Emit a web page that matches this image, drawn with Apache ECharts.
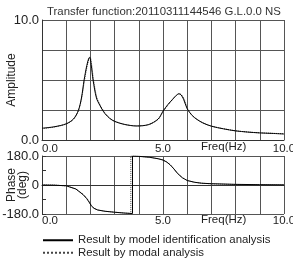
<!DOCTYPE html>
<html><head><meta charset="utf-8">
<script src="https://cdn.jsdelivr.net/npm/echarts@6/dist/echarts.min.js"></script>
<style>html,body{margin:0;padding:0;background:#fff}#c{width:293px;height:259px}</style>
</head><body><div id="c"></div>
<script>
const titleText = 'Transfer function:20110311144546 G.L.0.0 NS';
const seriesNames = ['Result by model identification analysis', 'Result by modal analysis'];
const xTickLabels = {0: '0.0', 5: '5.0', 10: '10.0'};
const ampTickLabels = {0: '0.0', 10: '10.0'};
const phaseTickLabels = {'-180': '-180.0', 0: '0', 180: '180.0'};

// Amplitude, model identification (solid)
const ampFreqA = [0, 0.5, 1.0, 1.3, 1.5, 1.63, 1.74, 1.85, 1.93, 1.97, 2.03, 2.11, 2.25, 2.4, 2.5, 2.6, 2.8, 3.0, 3.4, 3.9, 4.4, 4.8, 5.0, 5.2, 5.4, 5.55, 5.66, 5.75, 5.85, 6.0, 6.2, 6.4, 6.65, 7.0, 7.5, 8.0, 8.5, 9.0, 9.5, 10.0];
const ampValA  = [0.98, 1.1, 1.35, 1.75, 2.45, 3.5, 5.0, 6.2, 6.8, 6.9, 6.3, 5.0, 3.5, 2.85, 2.5, 2.2, 1.8, 1.55, 1.3, 1.17, 1.28, 1.75, 2.4, 2.95, 3.4, 3.72, 3.85, 3.75, 3.4, 2.6, 2.05, 1.72, 1.42, 1.15, 0.93, 0.76, 0.66, 0.59, 0.55, 0.5];
// Amplitude, modal analysis (dotted)
const ampFreqB = [0, 0.5, 1.0, 1.3, 1.5, 1.63, 1.75, 1.86, 1.95, 1.99, 2.05, 2.13, 2.27, 2.42, 2.52, 2.62, 2.8, 3.0, 3.4, 3.9, 4.4, 4.8, 5.0, 5.2, 5.4, 5.55, 5.67, 5.76, 5.87, 6.02, 6.2, 6.4, 6.65, 7.0, 7.5, 8.0, 8.5, 9.0, 9.5, 10.0];
const ampValB  = [0.96, 1.08, 1.33, 1.72, 2.4, 3.4, 4.9, 6.1, 6.8, 6.9, 6.3, 5.0, 3.5, 2.85, 2.5, 2.2, 1.82, 1.57, 1.31, 1.17, 1.28, 1.72, 2.35, 2.9, 3.38, 3.72, 3.87, 3.77, 3.42, 2.6, 2.07, 1.73, 1.43, 1.16, 0.94, 0.77, 0.67, 0.6, 0.56, 0.52];

// Phase, model identification (solid)
const phFreqA = [0, 0.5, 1.0, 1.4, 1.7, 1.85, 1.94, 2.04, 2.15, 2.3, 2.6, 3.0, 3.4, 3.74, 3.74, 4.0, 4.45, 4.8, 5.0, 5.15, 5.3, 5.45, 5.6, 5.8, 6.0, 6.3, 6.6, 7.0, 8.0, 9.0, 10.0];
const phValA  = [0, -1, -5, -25, -60, -85, -105, -130, -145, -155, -163, -169, -174, -177, 180, 178, 172, 163, 155, 143, 125, 100, 72, 45, 28, 17, 11, 8, 4, 2, 1];
// Phase, modal analysis (dotted)
const phFreqB = [0, 0.5, 1.0, 1.4, 1.7, 1.86, 1.95, 2.05, 2.16, 2.3, 2.6, 3.0, 3.4, 3.67, 3.67, 4.0, 4.45, 4.8, 5.0, 5.15, 5.3, 5.45, 5.6, 5.8, 6.0, 6.3, 6.6, 7.0, 8.0, 9.0, 10.0];
const phValB  = [0, -1, -5, -24, -58, -84, -104, -129, -145, -155, -163, -169, -174, -177, 180, 178, 172, 163, 155, 143, 125, 100, 72, 45, 28, 17, 11, 7, 3, 1, 0];

const zip = (a, b) => a.map((v, i) => [v, b[i]]);
const FONT = '"Liberation Sans", Arial, sans-serif';
const TXT = '#222';
const GRID = '#555';

const xAxisBase = (gi, margin) => ({
  type: 'value', gridIndex: gi, min: 0, max: 10, interval: 1,
  axisLine: {show: true, lineStyle: {color: '#333', width: 1}},
  axisTick: {show: false},
  splitLine: {show: true, lineStyle: {color: GRID, width: 1}},
  axisLabel: {
    margin: margin, color: TXT, fontFamily: FONT, fontSize: 11.5,
    alignMinLabel: 'left',
    formatter: v => xTickLabels[v] !== undefined ? xTickLabels[v] : ''
  }
});

const chart = echarts.init(document.getElementById('c'), null, {renderer: 'canvas'});
chart.setOption({
  animation: false,
  backgroundColor: '#fff',
  title: {
    text: titleText, left: 42, top: 1,
    textStyle: {fontFamily: FONT, fontSize: 11.4, fontWeight: 'normal', color: '#333'}
  },
  grid: [
    {left: 42, top: 20, right: 9, height: 120, outerBoundsMode: 'none', containLabel: false},
    {left: 42, top: 156, right: 9, height: 58, outerBoundsMode: 'none', containLabel: false}
  ],
  xAxis: [xAxisBase(0, 3), xAxisBase(1, 1)],
  yAxis: [
    {
      type: 'value', gridIndex: 0, min: 0, max: 10, interval: 2.5,
      name: 'Amplitude', nameLocation: 'middle', nameRotate: 90, nameGap: 24, nameMoveOverlap: false,
      nameTextStyle: {fontFamily: FONT, fontSize: 12, color: TXT},
      axisLine: {show: true, lineStyle: {color: '#333'}},
      axisTick: {show: false},
      splitLine: {show: true, lineStyle: {color: GRID}},
      axisLabel: {margin: 3, color: TXT, fontFamily: FONT, fontSize: 13,
        formatter: v => ampTickLabels[v] !== undefined ? ampTickLabels[v] : ''}
    },
    {
      type: 'value', gridIndex: 1, min: -180, max: 180, interval: 90,
      name: 'Phase\n(deg)', nameLocation: 'middle', nameRotate: 90, nameGap: 14, nameMoveOverlap: false,
      nameTextStyle: {fontFamily: FONT, fontSize: 12, color: TXT, lineHeight: 11},
      axisLine: {show: true, lineStyle: {color: '#333'}},
      axisTick: {show: true, inside: true, length: 4, lineStyle: {color: '#333'}},
      splitLine: {show: true, lineStyle: {color: [GRID, 'rgba(0,0,0,0)', GRID, 'rgba(0,0,0,0)', GRID]}},
      axisLabel: {margin: 3, color: TXT, fontFamily: FONT, fontSize: 13,
        formatter: v => phaseTickLabels[v] !== undefined ? phaseTickLabels[v] : ''}
    }
  ],
  legend: {
    orient: 'vertical', left: 42, top: 234, height: 30, padding: 0,
    itemWidth: 30, itemHeight: 8, itemGap: 0,
    itemStyle: {opacity: 0},
    data: seriesNames,
    textStyle: {fontFamily: FONT, fontSize: 11.4, color: TXT, lineHeight: 12.5}
  },
  graphic: [
    {type: 'text', left: 201, top: 141, style: {text: 'Freq(Hz)', font: '11.5px ' + FONT, fill: TXT}},
    {type: 'text', left: 201, top: 214, style: {text: 'Freq(Hz)', font: '11.5px ' + FONT, fill: TXT}}
  ],
  series: [
    {name: seriesNames[0], type: 'line', xAxisIndex: 0, yAxisIndex: 0, data: zip(ampFreqA, ampValA),
     symbol: 'none', smooth: 0.3, lineStyle: {color: '#000', width: 1}, itemStyle: {color: '#000'}, z: 3},
    {name: seriesNames[1], type: 'line', xAxisIndex: 0, yAxisIndex: 0, data: zip(ampFreqB, ampValB),
     symbol: 'none', smooth: 0.3, lineStyle: {color: '#444', width: 1, type: 'dotted'}, itemStyle: {color: '#444'}, z: 2},
    {name: seriesNames[0], type: 'line', xAxisIndex: 1, yAxisIndex: 1, data: zip(phFreqA, phValA),
     symbol: 'none', lineStyle: {color: '#000', width: 1}, itemStyle: {color: '#000'}, z: 3},
    {name: seriesNames[1], type: 'line', xAxisIndex: 1, yAxisIndex: 1, data: zip(phFreqB, phValB),
     symbol: 'none', lineStyle: {color: '#444', width: 1, type: 'dotted'}, itemStyle: {color: '#444'}, z: 2}
  ]
});
</script></body></html>
